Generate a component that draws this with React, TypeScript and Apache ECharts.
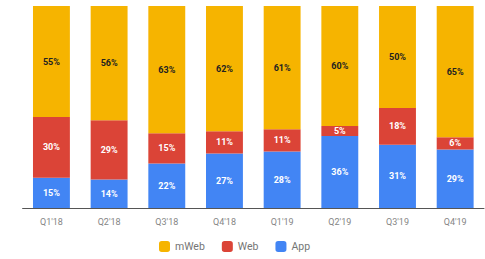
import React, { useEffect, useRef } from "react";
import * as echarts from "echarts";

const categories = ["Q1'18", "Q2'18", "Q3'18", "Q4'18", "Q1'19", "Q2'19", "Q3'19", "Q4'19"];
const appValues = [15, 14, 22, 27, 28, 36, 31, 29];
const webValues = [30, 29, 15, 11, 11, 5, 18, 6];
const mWebValues = [55, 56, 63, 62, 61, 60, 50, 65];

const totals = categories.map((_, i) => appValues[i] + webValues[i] + mWebValues[i]);
const share = (arr: number[]) =>
  arr.map((v, i) => ({ value: (v * 100) / totals[i], raw: v }));

export default function App() {
  const ref = useRef<HTMLDivElement>(null);
  useEffect(() => {
    if (!ref.current) return;
    const chart = echarts.init(ref.current, undefined, { renderer: "svg" });
    const labelFmt = (p: any) => `${p.data.raw}%`;
    const mk = (name: string, arr: number[], color: string, labelColor: string) => ({
      name,
      type: "bar",
      stack: "total",
      barCategoryGap: "36%",
      data: share(arr),
      itemStyle: { color },
      label: {
        show: true,
        position: "inside",
        formatter: labelFmt,
        color: labelColor,
        fontSize: 9,
        fontWeight: "bold",
        fontFamily: "Roboto",
      },
    });
    chart.setOption({
      animation: false,
      grid: { left: 22.6, right: 1, top: 6, bottom: 51 },
      legend: {
        data: ["mWeb", "Web", "App"],
        bottom: 2,
        left: 154,
        itemWidth: 11,
        itemHeight: 11,
        itemGap: 17,
        icon: "roundRect",
        textStyle: { color: "#757575", fontSize: 10.5, fontFamily: "Roboto" },
      },
      xAxis: {
        type: "category",
        data: categories,
        axisLine: { lineStyle: { color: "#555", width: 1 } },
        axisTick: { show: false },
        axisLabel: { color: "#858585", fontSize: 9, fontFamily: "Roboto", margin: 9 },
      },
      yAxis: {
        type: "value",
        min: 0,
        max: 100,
        show: false,
        splitLine: { show: false },
      },
      series: [
        mk("App", appValues, "#4285F4", "#ffffff"),
        mk("Web", webValues, "#DB4437", "#ffffff"),
        mk("mWeb", mWebValues, "#F6B400", "#222222"),
      ],
    });
    return () => chart.dispose();
  }, []);
  return <div ref={ref} style={{ width: 485, height: 259, position: "absolute", left: 0, top: 0 }} />;
}
